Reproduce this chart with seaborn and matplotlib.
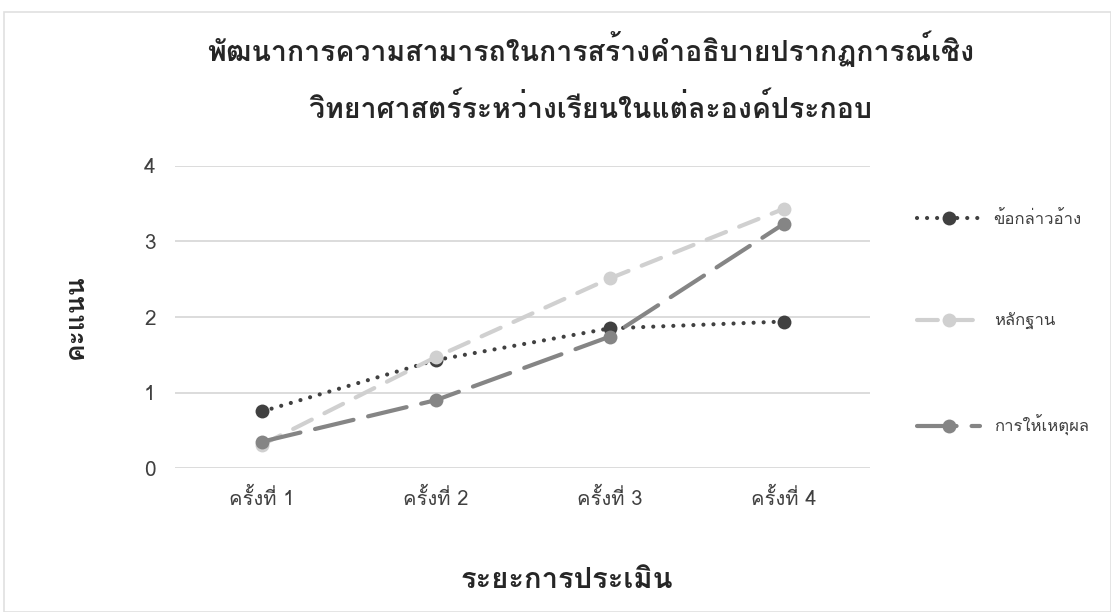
import matplotlib
matplotlib.use("Agg")
import matplotlib.pyplot as plt
import seaborn as sns
from matplotlib import font_manager, ft2font
from matplotlib.patches import Rectangle

# ข้อมูล
ครั้ง = ["ครั้งที่ 1", "ครั้งที่ 2", "ครั้งที่ 3", "ครั้งที่ 4"]
ข้อกล่าวอ้าง = [0.75, 1.43, 1.85, 1.94]
หลักฐาน = [0.31, 1.47, 2.51, 3.43]
การให้เหตุผล = [0.35, 0.90, 1.74, 3.23]

ชื่อชุด = ["ข้อกล่าวอ้าง", "หลักฐาน", "การให้เหตุผล"]
ค่าชุด = [ข้อกล่าวอ้าง, หลักฐาน, การให้เหตุผล]
สี = ["#404040", "#d0d0d0", "#858585"]
เส้น = [(0, (0.01, 2.4)), (0, (5.0, 3.4)), (0, (9.5, 3.6))]

TITLE = "พัฒนาการความสามารถในการสร้างคำอธิบายปรากฏการณ์เชิง\nวิทยาศาสตร์ระหว่างเรียนในแต่ละองค์ประกอบ"


def หา_ฟอนต์ไทย():
    # หาฟอนต์ที่มีตัวอักษรไทย
    for f in font_manager.fontManager.ttflist:
        try:
            cm = ft2font.FT2Font(f.fname).get_charmap()
        except Exception:
            continue
        if 0x0E01 in cm and 0x0E4C in cm:
            return f.name
    return None


sns.set_style("white")
ฟอนต์ = หา_ฟอนต์ไทย()
plt.rcParams["font.family"] = ([ฟอนต์] if ฟอนต์ else []) + ["DejaVu Sans"]

fig = plt.figure(figsize=(11.11, 6.12), dpi=100)
ax = fig.add_axes([0.1575, 0.235, 0.626, 0.494])

for ชื่อ, ค่า, c, ls in zip(ชื่อชุด, ค่าชุด, สี, เส้น):
    sns.lineplot(x=ครั้ง, y=ค่า, ax=ax, color=c, linestyle=ls, linewidth=3.0,
                 marker="o", markersize=10, markeredgewidth=0, label=ชื่อ,
                 dash_capstyle="round", solid_capstyle="round", sort=False)

ax.set_xlim(-0.5, 3.5)
ax.set_ylim(0, 4)
ax.set_yticks([0, 1, 2, 3, 4])
ax.grid(axis="y", color="#d9d9d9", linewidth=1.3)
ax.grid(axis="x", visible=False)
for s in ax.spines.values():
    s.set_visible(False)
ax.tick_params(axis="x", labelsize=14.5, colors="#404040", length=0, pad=14)
ax.tick_params(axis="y", labelsize=15, colors="#404040", length=0, pad=14)
ax.set_xlabel("ระยะการประเมิน", fontsize=21, fontweight="bold")
ax.xaxis.set_label_coords(0.563, -0.325)
ax.set_ylabel("คะแนน", fontsize=19, fontweight="bold", labelpad=40)
fig.suptitle(TITLE, fontsize=20.5, fontweight="bold", x=0.532, y=0.95, linespacing=2.0)

leg = ax.legend(loc="upper left", bbox_to_anchor=(902 / 1111, 1 - 196 / 612),
                bbox_transform=fig.transFigure, frameon=False, fontsize=12,
                handlelength=3.8, labelspacing=5.1, handletextpad=0.8)
for t in leg.get_texts():
    t.set_color("#404040")

fig.patches.append(Rectangle((4 / 1111, 0), 1 - 4 / 1111, 1 - 12 / 612,
                             transform=fig.transFigure, fill=False,
                             edgecolor="#e0e0e0", linewidth=1.2))

fig.savefig("out.png", dpi=100, facecolor="white")
